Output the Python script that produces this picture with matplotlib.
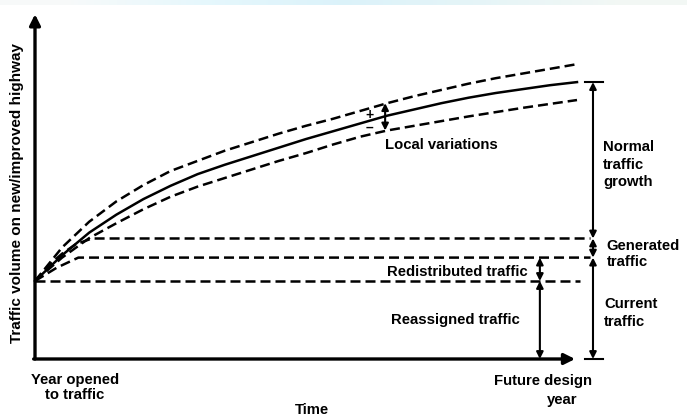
import numpy as np
import matplotlib.pyplot as plt

# time axis (years after opening) and traffic volume (current traffic = 100)
years = list(range(21))
normal_growth = [100, 133, 162, 185, 205, 222, 237, 249, 260, 271, 282,
                 292, 302, 312, 320, 328, 335, 341, 346, 351, 355]
upper_var = [100, 143, 176, 202, 223, 241, 254, 267, 278, 289, 299,
             308, 318, 328, 337, 345, 353, 360, 366, 372, 378]
lower_var = [100, 130, 155, 174, 192, 208, 221, 232, 243, 254, 264,
             275, 285, 293, 299, 305, 311, 316.5, 322, 327, 332]

# generated / redistributed / current traffic levels
gen_t = [0, 0.5, 1.0, 1.5, 2.1, 20.5]
gen_v = [100, 120, 135, 147, 154.5, 154.5]
redis_t = [0, 0.8, 1.6, 20.5]
redis_v = [100, 117, 130, 130]
current_t = [0, 20.1]
current_v = [100, 100]

current_level = 100
redis_level = 130
gen_level = 154.5
local_idx = 13

plt.rcParams['font.family'] = ['Liberation Sans', 'DejaVu Sans']
plt.rcParams['font.weight'] = 'bold'

fig = plt.figure(figsize=(6.87, 4.19), dpi=100)
ax = fig.add_axes([0, 0, 1, 1])
ax.set_xlim(-35 / 27.1, (687 - 35) / 27.1)
ax.set_ylim(-60 / 0.78, 359 / 0.78)
ax.axis('off')

# faint coloured band at the top of the scan
band = fig.add_axes([0, 1 - 5 / 419, 1, 5 / 419])
band_rgb = np.array([[[0.97, 0.98, 0.98], [0.90, 0.97, 0.99], [0.86, 0.95, 0.98],
                      [0.90, 0.96, 0.97], [0.95, 0.97, 0.96]]])
band.imshow(band_rgb, aspect='auto', interpolation='bilinear', extent=[0, 1, 0, 1])
band.axis('off')

dash = (4, 2)
lw = 1.8
ax.plot(years, normal_growth, color='black', lw=lw)
ax.plot(years, upper_var, color='black', lw=lw, dashes=dash)
ax.plot(years, lower_var, color='black', lw=lw, dashes=dash)
ax.plot(gen_t, gen_v, color='black', lw=lw, dashes=dash)
ax.plot(redis_t, redis_v, color='black', lw=lw, dashes=dash)
ax.plot(current_t, current_v, color='black', lw=lw, dashes=dash)

# axes with arrowheads
ax.annotate('', xy=(0, 442), xytext=(0, 0),
            arrowprops=dict(arrowstyle='-|>', lw=2.4, color='black',
                            mutation_scale=16, shrinkA=0, shrinkB=0))
ax.annotate('', xy=(19.93, 0), xytext=(-0.05, 0),
            arrowprops=dict(arrowstyle='-|>', lw=2.4, color='black',
                            mutation_scale=16, shrinkA=0, shrinkB=0))


def darrow(x, y0, y1):
    ax.annotate('', xy=(x, y1), xytext=(x, y0),
                arrowprops=dict(arrowstyle='<|-|>', lw=1.5, color='black',
                                mutation_scale=10, shrinkA=0, shrinkB=0))


# right-hand brackets
xr = 20.59
darrow(xr, gen_level, normal_growth[-1])
darrow(xr, redis_level, gen_level)
darrow(xr, 0, redis_level)
ax.plot([20.3, 20.96], [normal_growth[-1], normal_growth[-1]], color='black', lw=1.5)
ax.plot([20.3, 20.96], [0, 0], color='black', lw=1.5)

# reassigned / redistributed
xa = 18.63
darrow(xa, 0, current_level)
darrow(xa, current_level, redis_level)

# local variations
xl = years[local_idx] - 0.08
darrow(xl, lower_var[local_idx], upper_var[local_idx])
ax.text(12.35, 313, '+', fontsize=10, ha='center', va='center')
ax.text(12.35, 296, '\u2013', fontsize=10, ha='center', va='center')

fs = 10.7
ax.text(12.92, 274, 'Local variations', fontsize=fs, ha='left', va='center')
ax.text(20.96, 249, 'Normal\ntraffic\ngrowth', fontsize=fs, ha='left', va='center',
        linespacing=1.3)
ax.text(21.1, 134.6, 'Generated\ntraffic', fontsize=fs, ha='left', va='center',
        linespacing=1.15)
ax.text(21.0, 59, 'Current\ntraffic', fontsize=fs, ha='left', va='center',
        linespacing=1.3)
ax.text(15.57, 111.5, 'Redistributed traffic', fontsize=fs, ha='center', va='center')
ax.text(15.5, 50, 'Reassigned traffic', fontsize=fs, ha='center', va='center')
ax.text(1.48, -37, 'Year opened\nto traffic', fontsize=fs, ha='center', va='center',
        linespacing=1.1)
ax.text(18.75, -28, 'Future design', fontsize=fs, ha='center', va='center')
ax.text(19.45, -53, 'year', fontsize=fs, ha='center', va='center')
ax.text(10.22, -65.4, 'Time', fontsize=fs, ha='center', va='center')
ax.text(-0.66, 213, 'Traffic volume on new/improved highway', fontsize=11,
        rotation=90, ha='center', va='center')

fig.savefig('out.png', dpi=100)
